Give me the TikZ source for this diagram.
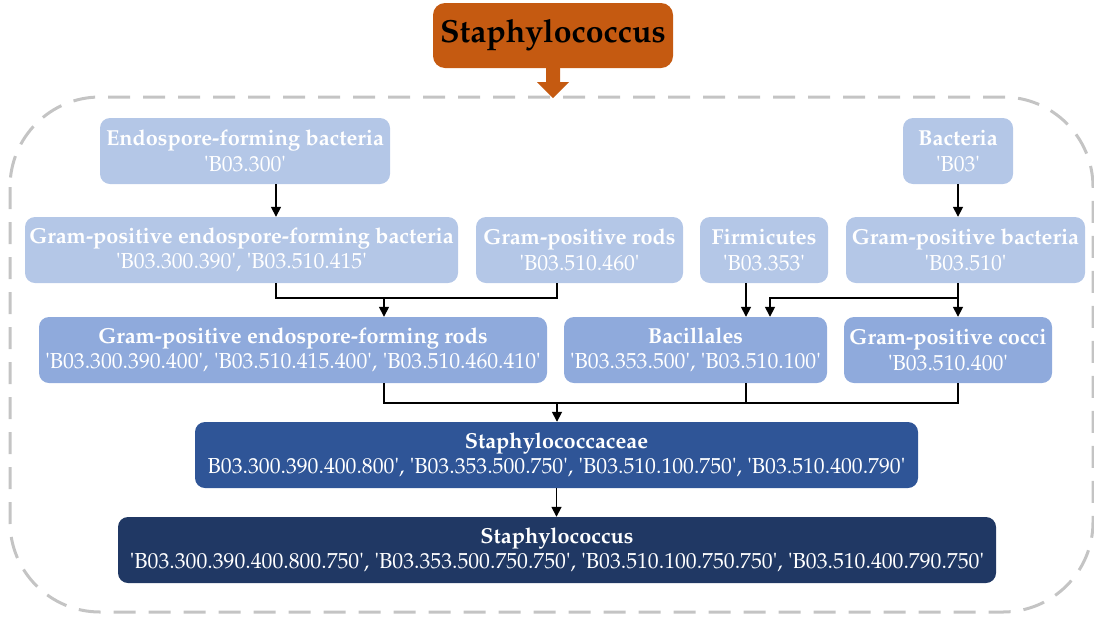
\documentclass[tikz,border=0pt]{standalone}
\usepackage[T1]{fontenc}
\usepackage{mathpazo}
\usepackage{tikz}
\usetikzlibrary{arrows.meta,positioning}
\definecolor{staphorange}{HTML}{C55A11}
\definecolor{meshlight}{HTML}{B4C7E7}
\definecolor{meshmid}{HTML}{8FAADC}
\definecolor{meshdark}{HTML}{2F5597}
\definecolor{meshdeep}{HTML}{203864}
\definecolor{framegray}{HTML}{C4C4C4}
\newcommand{\qt}{\textquotesingle}

\begin{document}
\begin{tikzpicture}[
    x=1pt, y=-1pt,
    box/.style={
        rectangle,
        rounded corners=10pt,
        align=center,
        text=white,
        inner sep=0pt,
        minimum height=66pt,
        font=\fontsize{21.7}{25.5}\selectfont
    },
    level1/.style={box, fill=meshlight},
    level2/.style={box, fill=meshmid},
    level3/.style={box, fill=meshdark},
    level4/.style={box, fill=meshdeep},
    link/.style={line width=1.6pt},
    arrow/.style={-{Triangle[length=10pt,width=10pt]}, line width=1.6pt},
    frame/.style={draw=framegray, line width=3pt, rounded corners=90pt, dash pattern=on 22pt off 13pt}
]
    \useasboundingbox (0,0) rectangle (1094,619);

    % === OUTER FRAME ===
    \draw[frame] (10,97) rectangle (1093,612);

    % === TOP LABEL ===
    \node[box, fill=staphorange, text=black, minimum width=240pt, minimum height=65pt, rounded corners=12pt,
          font=\fontsize{32}{37}\selectfont\bfseries] (toplabel) at (553,35.5) {Staphylococcus};
    \fill[staphorange] ([xshift=-7pt]toplabel.south) -- ++(0,14) -- ++(-9,0)
        -- ([yshift=-30pt]toplabel.south) -- ++(16,-16) -- ++(-9,0) -- ++(0,-14) -- cycle;

    % === ROW 1 ===
    \node[level1, minimum width=290pt] (endo) at (245,151) {\textbf{Endospore-forming bacteria}\\\qt B03.300\qt};
    \node[level1, minimum width=110pt] (bact) at (958,151) {\textbf{Bacteria}\\\qt B03\qt};

    % === ROW 2 ===
    \node[level1, minimum width=433pt] (gpeb) at (241.5,250) {\textbf{Gram-positive endospore-forming bacteria}\\\qt B03.300.390\qt, \qt B03.510.415\qt};
    \node[level1, minimum width=207pt] (gpr) at (579.5,250) {\textbf{Gram-positive rods}\\\qt B03.510.460\qt};
    \node[level1, minimum width=128pt] (firm) at (764,250) {\textbf{Firmicutes}\\\qt B03.353\qt};
    \node[level1, minimum width=239pt] (gpb) at (965.5,250) {\textbf{Gram-positive bacteria}\\\qt B03.510\qt};

    % === ROW 3 ===
    \node[level2, minimum width=508pt] (gper) at (293,350) {\textbf{Gram-positive endospore-forming rods}\\\qt B03.300.390.400\qt, \qt B03.510.415.400\qt, \qt B03.510.460.410\qt};
    \node[level2, minimum width=263pt] (bacil) at (695.5,350) {\textbf{Bacillales}\\\qt B03.353.500\qt, \qt B03.510.100\qt};
    \node[level2, minimum width=208pt] (gpc) at (948,350) {\textbf{Gram-positive cocci}\\\qt B03.510.400\qt};

    % === FAMILY AND GENUS ===
    \node[level3, minimum width=723pt] (family) at (556.5,455) {\textbf{Staphylococcaceae}\\B03.300.390.400.800\qt, \qt B03.353.500.750\qt, \qt B03.510.100.750\qt, \qt B03.510.400.790\qt};
    \node[level4, minimum width=878pt] (genus) at (557,550) {\textbf{Staphylococcus}\\\qt B03.300.390.400.800.750\qt, \qt B03.353.500.750.750\qt, \qt B03.510.100.750.750\qt, \qt B03.510.400.790.750\qt};

    % Row 1 to row 2
    \draw[arrow] ([xshift=31pt]endo.south) -- ([xshift=31pt]endo.south |- gpeb.north);
    \draw[arrow] (bact.south) -- (bact.south |- gpb.north);

    % Row 2 to row 3
    \coordinate (busA) at (384,298);
    \draw[link] ([xshift=34.5pt]gpeb.south) |- (busA) -| ([xshift=-22.5pt]gpr.south);
    \draw[arrow] (busA) -- (busA |- gper.north);
    \draw[arrow] ([xshift=-18pt]firm.south) -- ([xshift=-18pt]firm.south |- bacil.north);
    \draw[arrow] (bact.south |- gpb.south) -- (bact.south |- gpc.north);
    \draw[arrow] (bact.south |- gpb.south) -- ++(0,15) -| ([xshift=74.5pt]bacil.north);

    % Row 3 to family
    \coordinate (busC) at (557,403);
    \draw[link] ([xshift=91pt]gper.south) |- (busC) -| (bact.south |- gpc.south);
    \draw[link] ([xshift=50.5pt]bacil.south) -- ([xshift=50.5pt]bacil.south |- busC);
    \draw[arrow] (busC) -- (busC |- family.north);

    % Family to genus
    \draw[arrow] (family.south) -- (family.south |- genus.north);
\end{tikzpicture}
\end{document}
